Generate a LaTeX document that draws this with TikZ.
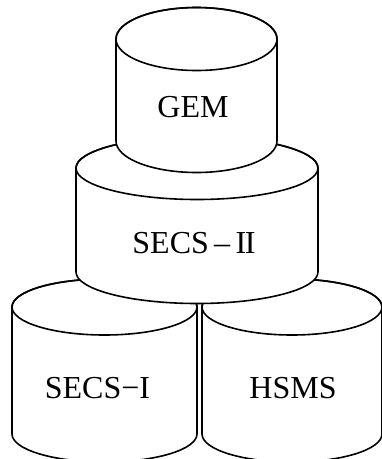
\documentclass[tikz,border=0pt]{standalone}
\usepackage{fontspec}
\setmainfont{Liberation Serif}
\begin{document}
\begin{tikzpicture}[x=1pt,y=1pt,
  cylline/.style={line width=1.6pt, line join=round, fill=white},
  lbl/.style={anchor=base, inner sep=0pt, font=\fontsize{32}{32}\selectfont}]
\useasboundingbox (0,0) rectangle (382,-459);
% cylinder: center x, top y, bottom y, rx, ry  (pixel coordinates, y downward)
\newcommand\mycyl[5]{%
  \draw[cylline] ({#1-#4},-#2) -- ({#1-#4},-#3)
     arc[start angle=180,end angle=360,x radius=#4,y radius=#5]
     -- ({#1+#4},-#2)
     arc[start angle=0,end angle=180,x radius=#4,y radius=#5] -- cycle;
  \draw[line width=1.6pt] (#1,-#2) ellipse[x radius=#4,y radius=#5];}
\begin{scope}
\clip (0,0) rectangle (382,-459);
\mycyl{104.5}{307}{434}{92.5}{28}
\mycyl{292}{307}{434}{90}{28}
\end{scope}
\mycyl{197}{168}{272}{121}{31.5}
\mycyl{196.5}{39}{141}{80.5}{31.5}
\node[lbl] (gem) at (193,-117) {GEM};
\node[lbl] (secs2) at (194,-253) {SECS\,–\,I\kern-0.04em I};
\node[lbl] (secs1) at (97.5,-398) {SECS−I};
\node[lbl] (hsms) at (293,-398) {HSMS};
\end{tikzpicture}
\end{document}
